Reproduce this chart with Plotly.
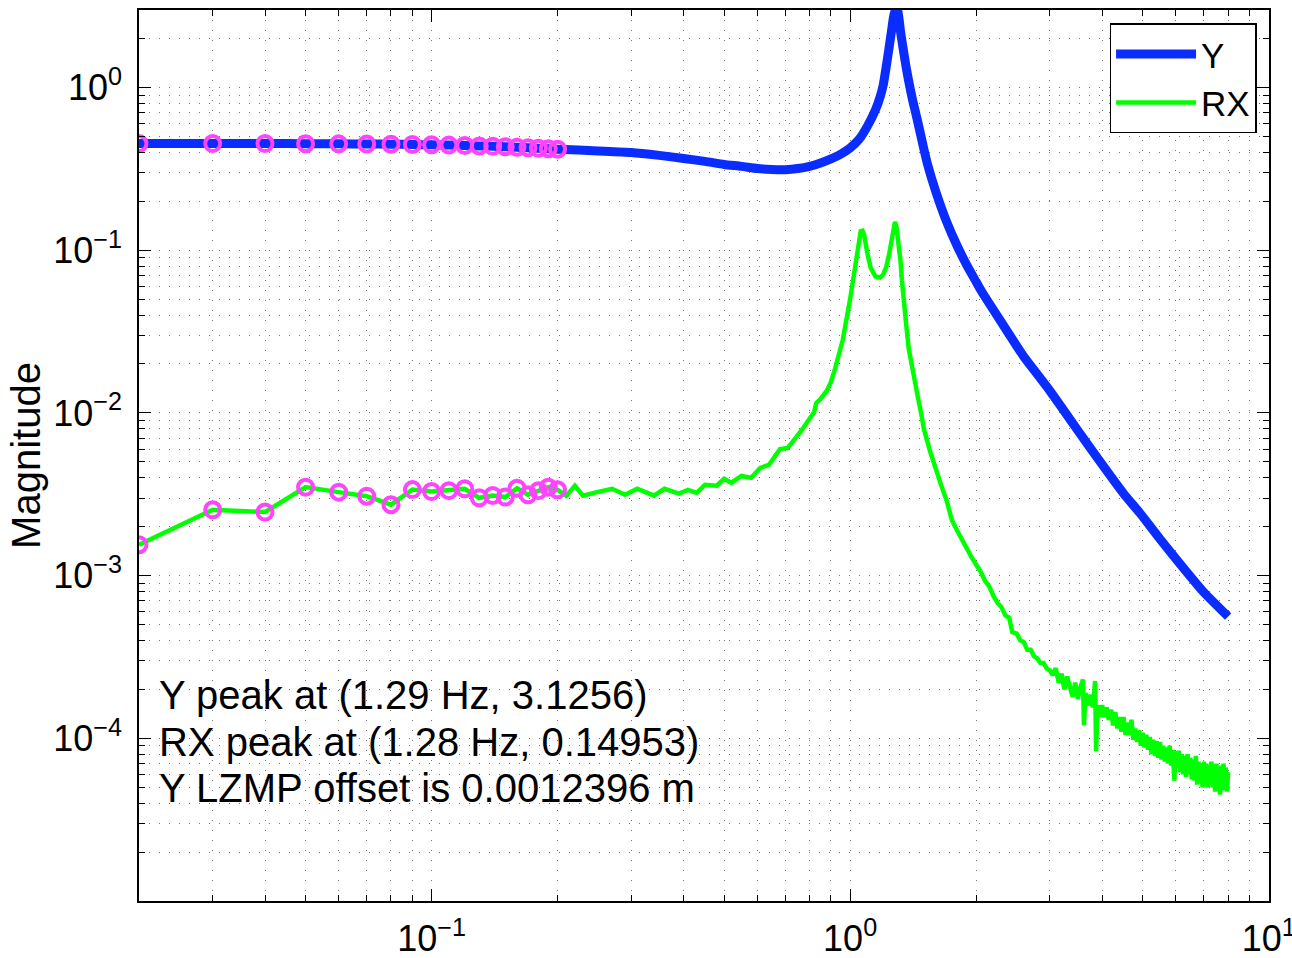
import plotly.graph_objects as go

# ---------------- data ----------------
y_freq = [0.02, 0.03, 0.04, 0.05, 0.06, 0.07, 0.08, 0.09, 0.10, 0.11, 0.12, 0.13, 0.14, 0.15,
          0.16, 0.17, 0.18, 0.19, 0.20,
          0.25, 0.30, 0.35, 0.40, 0.45, 0.50, 0.55, 0.60, 0.65, 0.70, 0.75, 0.80, 0.85, 0.90,
          0.95, 1.00, 1.05, 1.10, 1.15, 1.18, 1.20, 1.22, 1.24, 1.26, 1.27, 1.28, 1.29, 1.30,
          1.31, 1.32, 1.34, 1.36, 1.38, 1.41, 1.45, 1.50, 1.53, 1.60, 1.70, 1.80, 1.90, 2.00,
          2.06, 2.20, 2.45, 2.60, 2.85, 3.00, 3.18, 3.50, 3.96, 4.50, 4.94, 5.50, 6.16, 7.00, 8.00]
y_mag = [0.453, 0.453, 0.453, 0.452, 0.451, 0.450, 0.449, 0.447, 0.445, 0.443, 0.441, 0.438,
         0.436, 0.433, 0.430, 0.427, 0.424, 0.421, 0.418,
         0.408, 0.399, 0.383, 0.367, 0.352, 0.337, 0.328, 0.318, 0.314, 0.313, 0.318, 0.328,
         0.344, 0.365, 0.390, 0.425, 0.480, 0.580, 0.730, 0.880, 1.04, 1.35, 1.78, 2.37, 2.73,
         2.95, 3.1256, 2.95, 2.60, 2.20, 1.71, 1.35, 1.10, 0.84, 0.62, 0.42, 0.34, 0.232, 0.150,
         0.107, 0.081, 0.064, 0.056, 0.043, 0.0280, 0.0222, 0.0163, 0.0137, 0.0111, 0.0078,
         0.0050, 0.0032, 0.0024, 0.00168, 0.00117, 0.00079, 0.00056]

rx_freq = [0.02, 0.03, 0.04, 0.05, 0.06, 0.07, 0.08, 0.09, 0.10, 0.11, 0.12, 0.13, 0.14, 0.15,
           0.16, 0.17, 0.18, 0.19, 0.20,
           0.21, 0.22, 0.23, 0.25, 0.27, 0.29, 0.31, 0.34, 0.36, 0.39, 0.41, 0.43, 0.45, 0.48,
           0.50, 0.52, 0.55, 0.58, 0.61, 0.64, 0.68, 0.71, 0.75, 0.77, 0.79, 0.82, 0.83, 0.85,
           0.88, 0.90, 0.92, 0.96, 1.00, 1.02, 1.04, 1.06, 1.07, 1.08, 1.10, 1.12, 1.15, 1.18,
           1.20, 1.22, 1.24, 1.26, 1.27, 1.28, 1.29, 1.30, 1.32, 1.33, 1.34, 1.35, 1.36, 1.38,
           1.40, 1.43, 1.45, 1.48, 1.50, 1.55, 1.60, 1.65, 1.70, 1.75, 1.80, 1.85, 1.90, 1.95,
           2.00, 2.05, 2.10, 2.15, 2.20, 2.25, 2.30, 2.35, 2.40, 2.44, 2.50, 2.55, 2.60, 2.65,
           2.70, 2.75, 2.80, 2.85, 2.90, 2.95, 3.00, 3.05,
           3.10, 3.15, 3.20, 3.25, 3.30, 3.35, 3.40, 3.45, 3.50, 3.55, 3.60, 3.62, 3.65, 3.70,
           3.75, 3.80, 3.85, 3.87, 3.90, 3.95, 4.00, 4.05, 4.10, 4.15, 4.20, 4.25, 4.30, 4.35,
           4.40, 4.45, 4.50, 4.55, 4.60, 4.65, 4.70, 4.75, 4.80, 4.85, 4.90, 4.95, 5.00, 5.05,
           5.10, 5.15, 5.20, 5.25, 5.30, 5.35, 5.40, 5.45, 5.50, 5.55, 5.60, 5.65, 5.70, 5.75,
           5.80, 5.85, 5.90, 5.95, 6.00, 6.05, 6.10, 6.15, 6.20, 6.25, 6.30, 6.35, 6.40, 6.45,
           6.50, 6.55, 6.60, 6.65, 6.70, 6.75, 6.80, 6.85, 6.90, 6.95, 7.00, 7.05, 7.10, 7.15,
           7.20, 7.25, 7.30, 7.35, 7.40, 7.45, 7.50, 7.55, 7.60, 7.65, 7.70, 7.75, 7.80, 7.85,
           7.90, 7.95, 8.00]
rx_mag = [0.00155, 0.00254, 0.00246, 0.00350, 0.00326, 0.00308, 0.00273, 0.00338, 0.00329,
          0.00333, 0.00342, 0.00301, 0.00311, 0.00304, 0.00345, 0.00314, 0.00333, 0.00350,
          0.00337,
          0.00310, 0.00357, 0.00310, 0.00327, 0.00342, 0.00314, 0.00342, 0.00310, 0.00342,
          0.00319, 0.00337, 0.00323, 0.00362, 0.00357, 0.00394, 0.00372, 0.00410, 0.00399,
          0.00460, 0.00480, 0.00600, 0.00610, 0.00722, 0.00797, 0.00881, 0.0101, 0.0115,
          0.0122, 0.0137, 0.0155, 0.0186, 0.0280, 0.0500, 0.0680, 0.1000, 0.1310, 0.1320,
          0.1250, 0.0950, 0.0780, 0.0690, 0.0680, 0.0710, 0.0790, 0.0950, 0.1220, 0.1400,
          0.14953, 0.1400, 0.1200, 0.0850, 0.0650, 0.0500, 0.0400, 0.0360, 0.0250,
          0.0200, 0.0148, 0.0127, 0.0098, 0.0080, 0.0059, 0.0045, 0.0036, 0.0029, 0.0022,
          0.0019, 0.00165, 0.00146, 0.00130,
          0.00117, 0.00106, 0.00093, 0.00086, 0.00075, 0.00068, 0.00064, 0.00057, 0.00055,
          0.00045, 0.00044, 0.00040, 0.00039, 0.00035, 0.00035, 0.00032, 0.00031, 0.00029,
          0.000290, 0.000268, 0.000262, 0.000245,
          0.000270, 0.000220, 0.000250, 0.000200, 0.000240, 0.000210, 0.000180, 0.000220,
          0.000175, 0.000205, 0.000230, 0.000120, 0.000190, 0.000160, 0.000185, 0.000155,
          0.000225, 0.000083, 0.000160, 0.000135, 0.000160, 0.000135, 0.000155, 0.000130,
          0.000150, 0.000120, 0.000145, 0.000115, 0.000135, 0.000110, 0.000135, 0.000105,
          0.000125, 0.000105, 0.000130, 0.000098, 0.000115, 0.000095, 0.000112, 0.000090,
          0.000108, 0.000088, 0.000105, 0.000085, 0.000102, 0.000080, 0.000098, 0.000078,
          0.000096, 0.000076, 0.000095, 0.000074, 0.000090, 0.000072, 0.000088, 0.000070,
          0.000090, 0.000068, 0.000085, 0.000055, 0.000083, 0.000066, 0.000084, 0.000062,
          0.000080, 0.000060, 0.000078, 0.000058, 0.000080, 0.000060, 0.000076, 0.000056,
          0.000074, 0.000055, 0.000078, 0.000052, 0.000072, 0.000054, 0.000070, 0.000050,
          0.000072, 0.000052, 0.000070, 0.000050, 0.000068, 0.000052, 0.000072, 0.000050,
          0.000068, 0.000047, 0.000070, 0.000050, 0.000066, 0.000045, 0.000068, 0.000048,
          0.000070, 0.000050, 0.000066, 0.000047, 0.000062]

n_marked = 19  # first points (0.02 .. 0.20 Hz) carry circle markers

series_names = ["Y", "RX"]

x_tick_vals = [0.1, 1, 10]
x_tick_text = ["10<sup>\u22121</sup>", "10<sup>0</sup>", "10<sup>1</sup>"]
y_tick_vals = [1, 0.1, 0.01, 0.001, 0.0001]
y_tick_text = ["10<sup>0</sup>", "10<sup>\u22121</sup>", "10<sup>\u22122</sup>",
               "10<sup>\u22123</sup>", "10<sup>\u22124</sup>"]

note_lines = ["Y peak at (1.29 Hz, 3.1256)",
              "RX peak at (1.28 Hz, 0.14953)",
              "Y LZMP offset is 0.0012396 m"]

# ---------------- styling ----------------
BLUE = "#0a2cff"
GREEN = "#00ff00"
MAGENTA = "#ff44ff"
FONT = "Liberation Sans, Arial, Helvetica, sans-serif"
GRID = "rgba(0,0,0,0.55)"

fig = go.Figure()
fig.add_trace(go.Scatter(x=y_freq, y=y_mag, mode="lines", name=series_names[0],
                         line=dict(color=BLUE, width=9, shape="spline", smoothing=0.6)))
fig.add_trace(go.Scatter(x=rx_freq, y=rx_mag, mode="lines", name=series_names[1],
                         line=dict(color=GREEN, width=4.5)))
fig.add_trace(go.Scatter(x=y_freq[:n_marked], y=y_mag[:n_marked], mode="markers",
                         showlegend=False,
                         marker=dict(symbol="circle-open", size=15, color=MAGENTA,
                                     line=dict(width=4, color=MAGENTA))))
fig.add_trace(go.Scatter(x=rx_freq[:n_marked], y=rx_mag[:n_marked], mode="markers",
                         showlegend=False,
                         marker=dict(symbol="circle-open", size=15, color=MAGENTA,
                                     line=dict(width=4, color=MAGENTA))))

minor_x = [m * 10.0 ** e for e in range(-2, 1) for m in range(2, 10)]
minor_y = [m * 10.0 ** e for e in range(-5, 1) for m in range(2, 10)]

axis_common = dict(
    showline=True, linecolor="black", linewidth=1.5, mirror="ticks",
    ticks="inside", ticklen=12, tickwidth=1, tickcolor="black",
    showgrid=True, gridcolor=GRID, gridwidth=1, griddash="1px,9px",
    zeroline=False, tickmode="array", automargin=False,
    ticklabeloverflow="allow",
    tickfont=dict(family=FONT, size=36, color="black"),
)

fig.update_xaxes(type="log", range=[-1.69897, 1.0008],
                 tickvals=x_tick_vals, ticktext=x_tick_text,
                 ticklabelstandoff=5,
                 minor=dict(tickmode="array", tickvals=minor_x, ticks="inside", ticklen=6,
                            tickcolor="black", showgrid=True, gridcolor=GRID,
                            griddash="1px,9px", gridwidth=1),
                 **axis_common)
fig.update_yaxes(type="log", range=[-5.0, 0.477],
                 tickvals=y_tick_vals, ticktext=y_tick_text,
                 ticklabelstandoff=8,
                 title=dict(text="Magnitude", font=dict(family=FONT, size=40, color="black"),
                            standoff=0),
                 minor=dict(tickmode="array", tickvals=minor_y, ticks="inside", ticklen=6,
                            tickcolor="black", showgrid=True, gridcolor=GRID,
                            griddash="1px,9px", gridwidth=1),
                 **axis_common)

note_y = [0.2312, 0.1785, 0.1268]
for txt, yy in zip(note_lines, note_y):
    fig.add_annotation(text=txt, xref="paper", yref="paper", x=0.016, y=yy,
                       xanchor="left", yanchor="middle", showarrow=False,
                       font=dict(family=FONT, size=40, color="black"))

fig.update_layout(
    width=1292, height=958,
    margin=dict(l=139, r=23, t=10, b=57),
    paper_bgcolor="white", plot_bgcolor="white",
    font=dict(family=FONT, color="black"),
    legend=dict(x=0.989, y=0.985, xanchor="right", yanchor="top",
                bgcolor="white", bordercolor="black", borderwidth=1.5,
                font=dict(family=FONT, size=35, color="black"),
                itemwidth=80, tracegroupgap=0),
    showlegend=True,
)

fig.write_html("out.html")
